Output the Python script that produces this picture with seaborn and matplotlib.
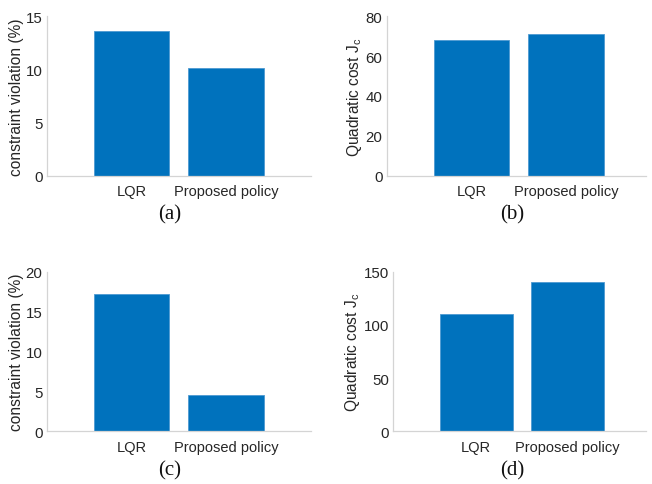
import seaborn as sns
import matplotlib.pyplot as plt
import pandas as pd

policies = ["LQR", "Proposed policy"]
violation_a = [13.6, 10.1]
cost_b = [68, 71]
violation_c = [17.2, 4.5]
cost_d = [110, 140]

violation_label = "constraint violation (%)"
cost_label = r"Quadratic cost J$_\mathregular{c}$"
captions = ["(a)", "(b)", "(c)", "(d)"]

sns.set_style("white")
plt.rcParams["font.family"] = ["Liberation Sans", "DejaVu Sans"]
plt.rcParams["mathtext.fontset"] = "custom"
plt.rcParams["mathtext.rm"] = "Liberation Sans"

fig = plt.figure(figsize=(6.52, 4.85), dpi=100)

panels = [
    (violation_a, violation_label, [0, 5, 10, 15], (0, 15), [0.0716, 0.6357, 0.405, 0.3286], (-0.9, 1.9), (170, 215)),
    (cost_b, cost_label, [0, 20, 40, 60, 80], (0, 80), [0.5931, 0.6357, 0.3977, 0.3286], (-0.9, 1.85), (512, 215)),
    (violation_c, violation_label, [0, 5, 10, 15, 20], (0, 20), [0.0716, 0.1086, 0.405, 0.3291], (-0.9, 1.9), (170, 471)),
    (cost_d, cost_label, [0, 50, 100, 150], (0, 150), [0.6032, 0.1086, 0.3876, 0.3291], (-0.91, 1.86), (512, 471)),
]

for (vals, ylab, yticks, ylim, rect, xlim, cap_xy), cap in zip(panels, captions):
    ax = fig.add_axes(rect)
    df = pd.DataFrame({"policy": policies, "value": vals})
    sns.barplot(data=df, x="policy", y="value", color="#0072BD", saturation=1,
                width=0.8, edgecolor="#4d9ad2", linewidth=0.6, ax=ax)
    ax.set_xlim(*xlim)
    ax.set_ylim(*ylim)
    ax.set_yticks(yticks)
    ax.set_xlabel("")
    ax.set_ylabel(ylab, fontsize=11.2, color="#262626", labelpad=1)
    ax.tick_params(axis="y", direction="in", length=2, color="#c8c8c8", labelsize=10.8,
                   labelcolor="#262626", pad=3)
    ax.tick_params(axis="x", length=0, labelsize=10.5, labelcolor="#262626", pad=6)
    for s in ["top", "right"]:
        ax.spines[s].set_visible(False)
    for s in ["left", "bottom"]:
        ax.spines[s].set_color("#d4d4d4")
        ax.spines[s].set_linewidth(0.9)
    fig.text(cap_xy[0] / 652, 1 - cap_xy[1] / 485, cap, ha="center", va="center",
             fontsize=15, family="Liberation Serif", color="#111111")

fig.savefig("out.png", dpi=100)
